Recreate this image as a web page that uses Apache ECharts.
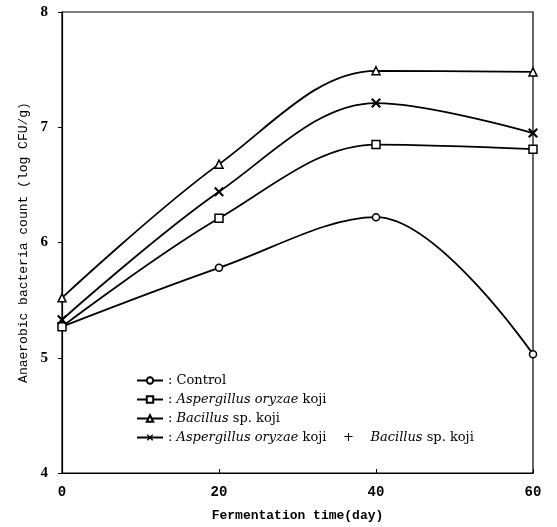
<!DOCTYPE html>
<html>
<head>
<meta charset="utf-8">
<script src="https://cdn.jsdelivr.net/npm/echarts@6/dist/echarts.min.js"></script>
<style>
  html, body { margin: 0; padding: 0; background: #fff; }
  #chart { width: 557px; height: 527px; }
</style>
</head>
<body>
<div id="chart"></div>
<script>
// fermentation days
var days = [0, 20, 40, 60];

// log CFU/g
var control   = [5.27, 5.78, 6.22, 5.03];
var aspergill = [5.27, 6.21, 6.85, 6.81];
var bacillus  = [5.52, 6.68, 7.49, 7.48];
var mixed     = [5.33, 6.44, 7.21, 6.95];

var names = ['Control', 'Aspergillus', 'Bacillus', 'Mixed'];

var xMark = 'path://M0,1.5L1.5,0L5,3.5L8.5,0L10,1.5L6.5,5L10,8.5L8.5,10L5,6.5L1.5,10L0,8.5L3.5,5Z';

function pairs(vals) {
    return days.map(function (d, i) { return [d, vals[i]]; });
}

function mkSeries(name, vals, symbol, size, filled) {
    return {
        name: name,
        type: 'line',
        data: pairs(vals),
        smooth: 0.35,
        symbol: symbol,
        symbolSize: size,
        showAllSymbol: true,
        lineStyle: { color: '#000', width: 1.8 },
        itemStyle: {
            color: filled ? '#000' : '#fff',
            borderColor: '#000',
            borderWidth: filled ? 0 : 1.5
        },
        emphasis: { disabled: true },
        z: 3
    };
}

var chart = echarts.init(document.getElementById('chart'));

chart.setOption({
    animation: false,
    backgroundColor: '#fff',
    grid: {
        left: 62, right: 24, top: 12, bottom: 53,
        show: true, borderColor: '#000', borderWidth: 1.2
    },
    legend: {
        orient: 'vertical',
        left: 131, top: 369,
        itemWidth: 26, itemHeight: 8, itemGap: 6,
        data: names,
        textStyle: {
            fontFamily: 'DejaVu Serif', fontSize: 13, color: '#000',
            rich: {
                i: { fontFamily: 'DejaVu Serif', fontStyle: 'italic', fontSize: 13, color: '#000' }
            }
        },
        formatter: function (n) {
            if (n === 'Control') return ': Control';
            if (n === 'Aspergillus') return ': {i|Aspergillus oryzae} koji';
            if (n === 'Bacillus') return ': {i|Bacillus} sp. koji';
            return ': {i|Aspergillus oryzae} koji    +    {i|Bacillus} sp. koji';
        }
    },
    xAxis: {
        type: 'value',
        min: 0, max: 60, interval: 20,
        name: 'Fermentation time(day)',
        nameLocation: 'middle',
        nameGap: 36,
        nameTextStyle: { fontFamily: 'Liberation Mono', fontWeight: 'bold', fontSize: 13, color: '#000' },
        axisLine: { lineStyle: { color: '#000', width: 1.2 } },
        axisTick: { inside: true, length: 4, lineStyle: { color: '#000' } },
        axisLabel: { fontFamily: 'Liberation Mono', fontWeight: 'bold', fontSize: 14, color: '#000', margin: 12 },
        splitLine: { show: false }
    },
    yAxis: {
        type: 'value',
        min: 4, max: 8, interval: 1,
        name: 'Anaerobic bacteria count (log CFU/g)',
        nameLocation: 'middle',
        nameGap: 32,
        nameTextStyle: { fontFamily: 'Liberation Mono', fontSize: 13, color: '#000' },
        axisLine: { lineStyle: { color: '#000', width: 1.2 } },
        axisTick: { length: 4, lineStyle: { color: '#000' } },
        axisLabel: { fontFamily: 'Liberation Serif', fontWeight: 'bold', fontSize: 15, color: '#000', margin: 14 },
        splitLine: { show: false }
    },
    series: [
        mkSeries('Control', control, 'circle', 7, false),
        mkSeries('Aspergillus', aspergill, 'rect', 8, false),
        mkSeries('Bacillus', bacillus, 'triangle', 8, false),
        mkSeries('Mixed', mixed, xMark, 10, true)
    ]
});
</script>
</body>
</html>
